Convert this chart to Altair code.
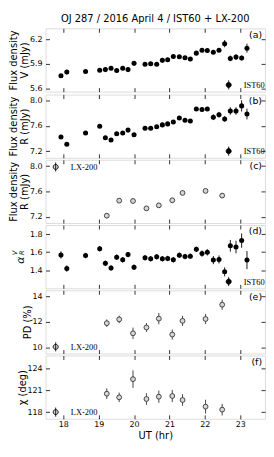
import altair as alt
import pandas as pd

# ---------------- data ----------------
hours_ist = [17.935, 18.10, 18.63, 19.03, 19.19, 19.35, 19.51, 19.68, 19.83, 20.00,
             20.31, 20.47, 20.64, 20.80, 20.95, 21.11, 21.28, 21.44, 21.59, 21.76,
             21.92, 22.07, 22.24, 22.40, 22.56, 22.72, 22.88, 23.04, 23.19]
flux_v = [5.754, 5.800, 5.807, 5.823, 5.831, 5.847, 5.819, 5.847, 5.831, 5.908,
          5.896, 5.904, 5.896, 5.945, 5.953, 5.993, 5.989, 5.977, 5.961, 6.034,
          6.070, 6.066, 6.046, 6.070, 6.151, 5.969, 5.985, 5.973, 6.095]
flux_v_err = [0.012, 0.012, 0.012, 0.012, 0.012, 0.012, 0.012, 0.012, 0.012, 0.012,
              0.012, 0.012, 0.012, 0.012, 0.012, 0.012, 0.012, 0.015, 0.015, 0.018,
              0.018, 0.018, 0.020, 0.020, 0.045, 0.035, 0.035, 0.030, 0.055]
flux_r = [7.425, 7.310, 7.488, 7.597, 7.414, 7.378, 7.477, 7.488, 7.535, 7.461,
          7.566, 7.566, 7.587, 7.618, 7.634, 7.665, 7.728, 7.692, 7.681, 7.869,
          7.864, 7.869, 7.739, 7.780, 7.712, 7.838, 7.838, 7.920, 7.790]
flux_r_err = [0.020, 0.020, 0.020, 0.020, 0.020, 0.020, 0.020, 0.020, 0.020, 0.020,
              0.020, 0.020, 0.020, 0.020, 0.020, 0.020, 0.020, 0.020, 0.020, 0.030,
              0.030, 0.030, 0.045, 0.045, 0.045, 0.060, 0.060, 0.090, 0.085]
alpha_vr = [1.569, 1.418, 1.562, 1.638, 1.476, 1.425, 1.544, 1.515, 1.573, 1.432,
            1.537, 1.526, 1.548, 1.526, 1.530, 1.515, 1.566, 1.551, 1.555, 1.631,
            1.584, 1.598, 1.512, 1.519, 1.382, 1.670, 1.656, 1.728, 1.512]
alpha_vr_err = [0.040, 0.035, 0.030, 0.030, 0.030, 0.030, 0.030, 0.030, 0.030, 0.030,
                0.030, 0.030, 0.030, 0.030, 0.030, 0.030, 0.030, 0.030, 0.030, 0.030,
                0.035, 0.035, 0.045, 0.045, 0.050, 0.065, 0.070, 0.080, 0.100]

hours_lx = [19.23, 19.58, 19.97, 20.35, 20.70, 21.08, 21.37, 22.02, 22.49]
flux_r_lx = [7.216, 7.454, 7.449, 7.332, 7.380, 7.460, 7.576, 7.608, 7.534]
flux_r_lx_err = [0.035, 0.035, 0.035, 0.035, 0.035, 0.035, 0.035, 0.035, 0.035]
pol_deg = [11.90, 12.20, 11.10, 11.56, 12.26, 11.00, 12.08, 12.23, 13.36]
pol_deg_err = [0.30, 0.30, 0.45, 0.35, 0.45, 0.40, 0.40, 0.40, 0.40]
pol_ang = [120.55, 120.05, 122.55, 119.82, 120.14, 120.23, 119.68, 118.77, 118.36]
pol_ang_err = [0.73, 0.65, 1.20, 0.80, 0.85, 0.85, 0.80, 0.95, 0.80]

x_domain = [17.5, 23.7]
x_ticks = [18, 19, 20, 21, 22, 23]

# ---------------- styling ----------------
W, H = 222, 64
FONT = "DejaVu Sans"
SERIF = "Liberation Serif"
SYM = "M -1 0 A 1 1 0 1 1 1 0 A 1 1 0 1 1 -1 0 Z M 0 -1.8 L 0 1.8"


def make_df(h, v, e, inst):
    return pd.DataFrame({
        "hr": h,
        "v": v,
        "lo": [a - b for a, b in zip(v, e)],
        "hi": [a + b for a, b in zip(v, e)],
        "inst": [inst for _ in h],
    })


def ax(**kw):
    base = dict(offset=-4, tickSize=4, tickColor="black", tickWidth=0.8,
                domain=False, grid=False, labelFont=FONT, labelFontSize=8,
                labelColor="black", titleFont=FONT, titleFontSize=10,
                titleColor="black", titleFontWeight="normal")
    base.update(kw)
    return alt.Axis(**base)


def panel(df, ydom, yticks, ytitle, letter, leg_xy, ist, last=False, extra=None):
    xs = alt.Scale(domain=x_domain, nice=False, zero=False)
    ys = alt.Scale(domain=ydom, nice=False, zero=False)
    if ist:
        bar_color = "black"
        pts = alt.Chart(df).mark_point(shape="circle", filled=True, size=26, opacity=1)
        col_range = ["black"]
        sym_fill = "black"
        inst = "IST60"
    else:
        bar_color = "#333333"
        pts = alt.Chart(df).mark_point(shape="circle", filled=True, size=24, opacity=1,
                                       stroke="#333333", strokeWidth=0.9)
        col_range = ["#d6d6d6"]
        sym_fill = "#b0b0b0"
        inst = "LX-200"

    rules = alt.Chart(df).mark_rule(color=bar_color, strokeWidth=0.9).encode(
        x=alt.X("hr:Q", scale=xs,
                axis=ax(orient="top", values=x_ticks, labels=False, title=None)),
        y=alt.Y("lo:Q", scale=ys,
                axis=ax(orient="right", values=yticks, labels=False, title=None)),
        y2="hi:Q",
    )

    yaxis_kw = dict(orient="left", values=yticks, labelPadding=3.5, titlePadding=0,
                    titleLineHeight=11)
    yaxis_kw["title"] = ytitle
    if last:
        xaxis = ax(orient="bottom", values=x_ticks, labels=True, title="UT (hr)",
                   labelPadding=2, titlePadding=2, format="d")
    else:
        xaxis = ax(orient="bottom", values=x_ticks, labels=False, title=None)

    points = pts.encode(
        x=alt.X("hr:Q", scale=xs, axis=xaxis),
        y=alt.Y("v:Q", scale=ys, axis=ax(**yaxis_kw)),
        color=alt.Color("inst:N", scale=alt.Scale(domain=[inst], range=col_range),
                        legend=alt.Legend(
                            title=None, orient="none", legendX=leg_xy[0], legendY=leg_xy[1],
                            symbolType=SYM, symbolSize=26, labelFont=SERIF,
                            labelFontSize=8.5, labelColor="black", labelOffset=11,
                            padding=0, symbolStrokeColor="black",
                            symbolFillColor=sym_fill,
                            symbolStrokeWidth=0.9, symbolOpacity=1)),
    )

    lab = alt.Chart(pd.DataFrame({"t": [letter]})).mark_text(
        align="right", baseline="top", font=FONT, fontSize=9.5, color="black"
    ).encode(text="t:N", x=alt.value(W - 3), y=alt.value(1.5))

    layers = [rules, points, lab]
    if extra:
        layers.extend(extra)
    return alt.layer(*layers).resolve_axis(x="independent", y="independent").properties(
        width=W, height=H)


df_a = make_df(hours_ist, flux_v, flux_v_err, "IST60")
df_b = make_df(hours_ist, flux_r, flux_r_err, "IST60")
df_c = make_df(hours_lx, flux_r_lx, flux_r_lx_err, "LX-200")
df_d = make_df(hours_ist, alpha_vr, alpha_vr_err, "IST60")
df_e = make_df(hours_lx, pol_deg, pol_deg_err, "LX-200")
df_f = make_df(hours_lx, pol_ang, pol_ang_err, "LX-200")


def side_text(t, x, y, size):
    return alt.Chart(pd.DataFrame({"t": [t]})).mark_text(
        align="center", baseline="middle", font=FONT, fontSize=size, fontStyle="italic",
        angle=270, color="black"
    ).encode(text="t:N", x=alt.value(x), y=alt.value(y))


alpha_label = [side_text("α", -25, 35.5, 11), side_text("V", -30.5, 28, 6.5),
               side_text("R", -23.5, 28, 6.5)]

pa = panel(df_a, [5.56, 6.34], [5.6, 5.9, 6.2], ["Flux density", "V (mJy)"], "(a)",
           (181, 53), True)
pb = panel(df_b, [7.095, 8.1], [7.2, 7.6, 8.0], ["Flux density", "R (mJy)"], "(b)",
           (181, 53), True)
pc = panel(df_c, [7.1, 8.1], [7.2, 7.6, 8.0], ["Flux density", "R (mJy)"], "(c)",
           (6, 3), False)
pd_ = panel(df_d, [1.2, 1.9], [1.4, 1.6, 1.8], None, "(d)", (181, 53), True,
            extra=alpha_label)
pe = panel(df_e, [9.5, 14.5], [10, 12, 14], "PD (%)", "(e)", (6, 53), False)
pf = panel(df_f, [117.1, 125.8], [118, 121, 124], "χ (deg)", "(f)", (6, 53), False,
           last=True)

chart = alt.vconcat(pa, pb, pc, pd_, pe, pf, spacing=0).resolve_scale(
    color="independent").resolve_legend(color="independent").properties(
    title=alt.TitleParams("OJ 287 / 2016 April 4 / IST60 + LX-200", font=FONT,
                          fontSize=10, fontWeight="normal", color="black", offset=3,
                          anchor="middle", frame="group"),
    padding={"left": 0, "top": 4, "right": 0, "bottom": 4},
).configure_view(stroke="#222222", strokeWidth=1).configure(background="white")

chart.save("out.html", embed_options={"renderer": "svg", "actions": False})
